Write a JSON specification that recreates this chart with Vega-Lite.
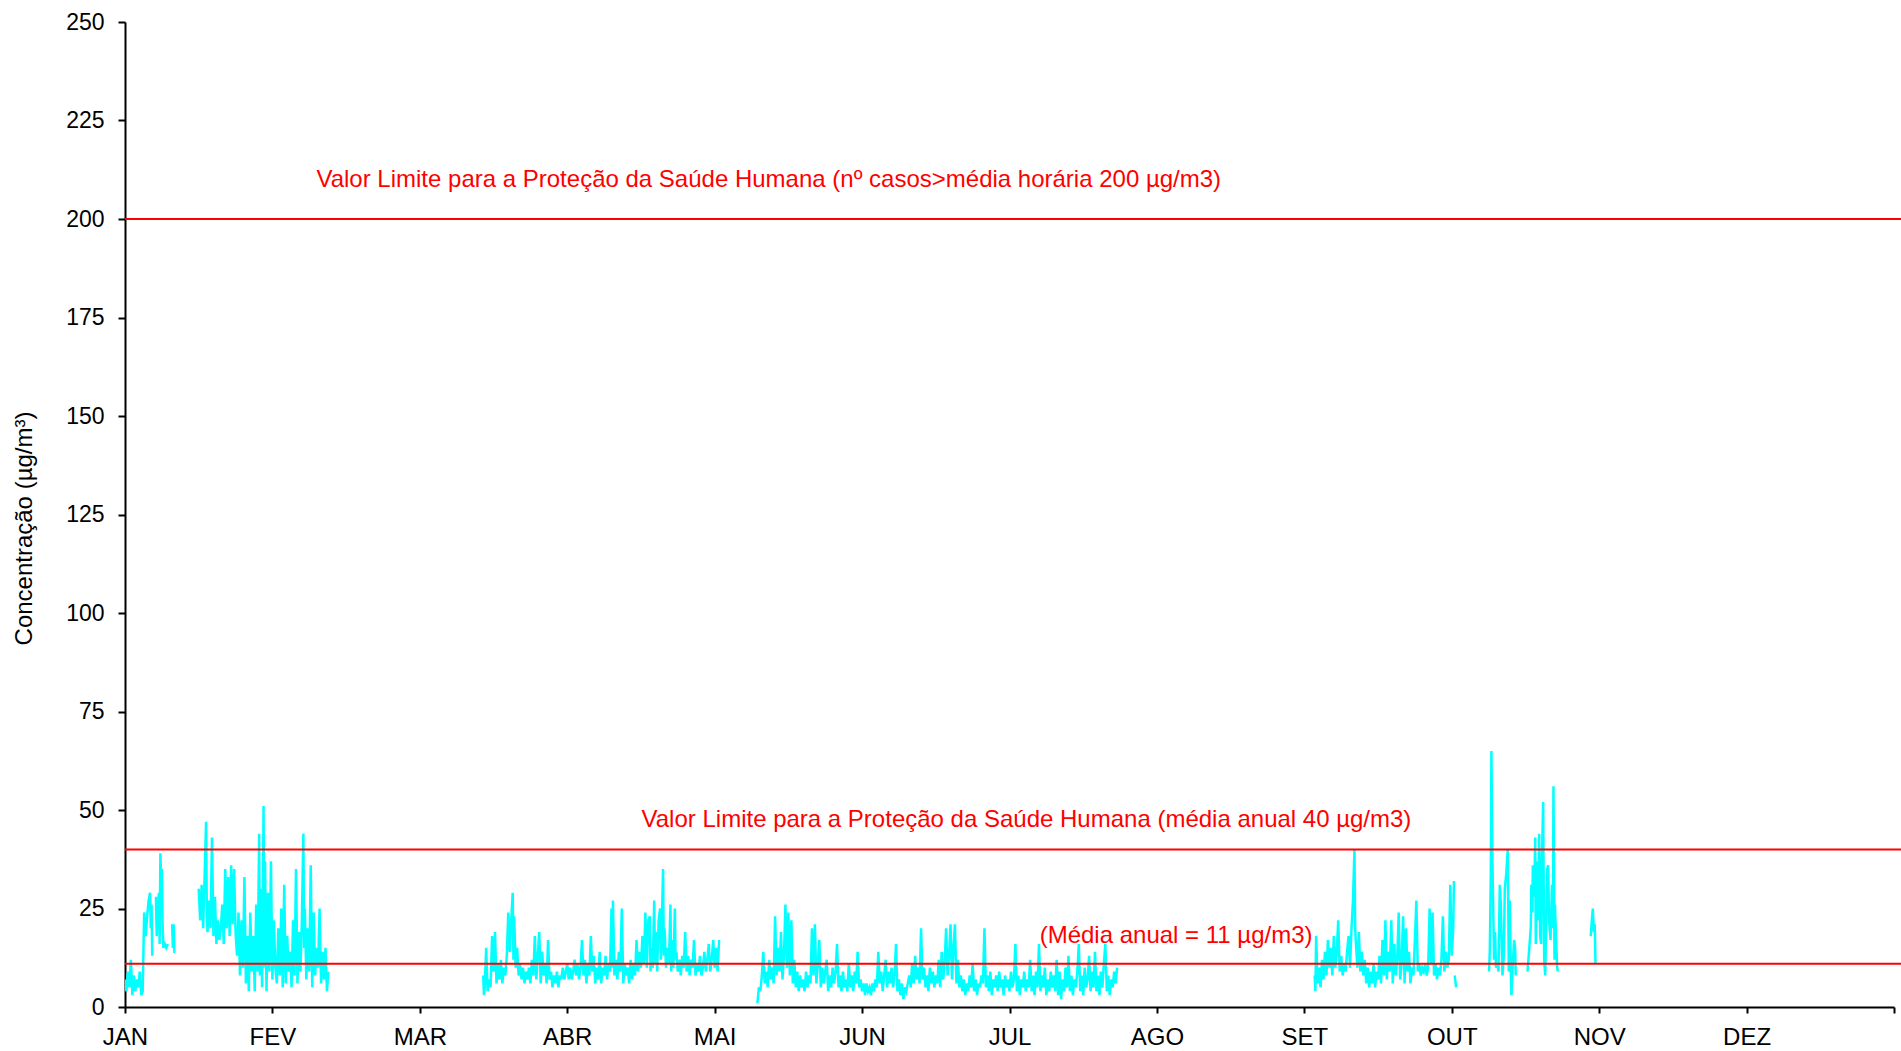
{
"$schema":"https://vega.github.io/schema/vega-lite/v6.json",
"width":1769,"height":985,
"autosize":{"type":"none"},
"padding":{"left":125,"top":22,"right":7,"bottom":44},
"background":"white",
"config":{"view":{"stroke":null},"font":"Liberation Sans"},
"datasets":{
"conc":[
{"m":0.00,"v":7,"s":1},{"m":0.01,"v":4,"s":1},{"m":0.02,"v":9,"s":1},{"m":0.03,"v":5,"s":1},{"m":0.04,"v":12,"s":1},{"m":0.05,"v":3,"s":1},{"m":0.06,"v":8,"s":1},{"m":0.07,"v":4,"s":1},{"m":0.08,"v":7,"s":1},{"m":0.09,"v":5,"s":1},{"m":0.10,"v":9,"s":1},{"m":0.11,"v":3,"s":1},{"m":0.12,"v":4,"s":1},{"m":0.125,"v":14,"s":1},{"m":0.13,"v":24,"s":1},{"m":0.14,"v":18,"s":1},{"m":0.15,"v":23,"s":1},{"m":0.16,"v":27,"s":1},{"m":0.17,"v":29,"s":1},{"m":0.175,"v":20,"s":1},{"m":0.18,"v":26,"s":1},{"m":0.185,"v":13,"s":1},
{"m":0.21,"v":28,"s":2},{"m":0.215,"v":18,"s":2},{"m":0.22,"v":23,"s":2},{"m":0.23,"v":29,"s":2},{"m":0.235,"v":16,"s":2},{"m":0.24,"v":39,"s":2},{"m":0.245,"v":33,"s":2},{"m":0.25,"v":35,"s":2},{"m":0.255,"v":21,"s":2},{"m":0.26,"v":15,"s":2},{"m":0.27,"v":16,"s":2},{"m":0.28,"v":15,"s":2},{"m":0.29,"v":16,"s":2},
{"m":0.32,"v":21,"s":3},{"m":0.325,"v":15,"s":3},{"m":0.33,"v":21,"s":3},{"m":0.335,"v":14,"s":3},{"m":0.34,"v":14,"s":3},
{"m":0.50,"v":30,"s":4},{"m":0.51,"v":22,"s":4},{"m":0.52,"v":31,"s":4},{"m":0.53,"v":20,"s":4},{"m":0.54,"v":33,"s":4},{"m":0.55,"v":47,"s":4},{"m":0.555,"v":24,"s":4},{"m":0.56,"v":19,"s":4},{"m":0.57,"v":27,"s":4},{"m":0.58,"v":20,"s":4},{"m":0.59,"v":43,"s":4},{"m":0.60,"v":18,"s":4},{"m":0.61,"v":28,"s":4},{"m":0.62,"v":16,"s":4},{"m":0.63,"v":22,"s":4},{"m":0.64,"v":17,"s":4},{"m":0.65,"v":20,"s":4},{"m":0.66,"v":26,"s":4},{"m":0.67,"v":16,"s":4},{"m":0.68,"v":35,"s":4},{"m":0.69,"v":20,"s":4},{"m":0.70,"v":33,"s":4},{"m":0.71,"v":18,"s":4},{"m":0.72,"v":36,"s":4},{"m":0.73,"v":21,"s":4},{"m":0.74,"v":35,"s":4},{"m":0.75,"v":19,"s":4},{"m":0.76,"v":13,"s":4},{"m":0.77,"v":24,"s":4},{"m":0.78,"v":8,"s":4},{"m":0.79,"v":22,"s":4},{"m":0.80,"v":10,"s":4},{"m":0.81,"v":33,"s":4},{"m":0.82,"v":6,"s":4},{"m":0.83,"v":18,"s":4},{"m":0.84,"v":4,"s":4},{"m":0.85,"v":24,"s":4},{"m":0.86,"v":9,"s":4},{"m":0.87,"v":18,"s":4},{"m":0.88,"v":4,"s":4},{"m":0.89,"v":26,"s":4},{"m":0.90,"v":9,"s":4},{"m":0.91,"v":44,"s":4},{"m":0.915,"v":8,"s":4},{"m":0.92,"v":30,"s":4},{"m":0.93,"v":5,"s":4},{"m":0.94,"v":51,"s":4},{"m":0.945,"v":10,"s":4},{"m":0.95,"v":37,"s":4},{"m":0.96,"v":4,"s":4},{"m":0.97,"v":29,"s":4},{"m":0.98,"v":9,"s":4},{"m":0.99,"v":37,"s":4},{"m":1.00,"v":7,"s":4},{"m":1.01,"v":22,"s":4},{"m":1.02,"v":10,"s":4},{"m":1.03,"v":6,"s":4},{"m":1.04,"v":20,"s":4},{"m":1.05,"v":8,"s":4},{"m":1.06,"v":25,"s":4},{"m":1.07,"v":5,"s":4},{"m":1.08,"v":31,"s":4},{"m":1.09,"v":6,"s":4},{"m":1.10,"v":18,"s":4},{"m":1.11,"v":9,"s":4},{"m":1.12,"v":14,"s":4},{"m":1.13,"v":5,"s":4},{"m":1.14,"v":22,"s":4},{"m":1.15,"v":8,"s":4},{"m":1.16,"v":35,"s":4},{"m":1.17,"v":6,"s":4},{"m":1.18,"v":19,"s":4},{"m":1.19,"v":9,"s":4},{"m":1.20,"v":22,"s":4},{"m":1.21,"v":44,"s":4},{"m":1.215,"v":15,"s":4},{"m":1.22,"v":25,"s":4},{"m":1.23,"v":7,"s":4},{"m":1.24,"v":20,"s":4},{"m":1.25,"v":9,"s":4},{"m":1.26,"v":36,"s":4},{"m":1.27,"v":5,"s":4},{"m":1.28,"v":24,"s":4},{"m":1.29,"v":8,"s":4},{"m":1.30,"v":15,"s":4},{"m":1.31,"v":10,"s":4},{"m":1.32,"v":25,"s":4},{"m":1.33,"v":6,"s":4},{"m":1.34,"v":14,"s":4},{"m":1.35,"v":7,"s":4},{"m":1.36,"v":15,"s":4},{"m":1.37,"v":4,"s":4},{"m":1.38,"v":9,"s":4},
{"m":2.43,"v":8,"s":5},{"m":2.435,"v":3,"s":5},{"m":2.44,"v":5,"s":5},{"m":2.45,"v":15,"s":5},{"m":2.46,"v":4,"s":5},{"m":2.47,"v":7,"s":5},{"m":2.48,"v":5,"s":5},{"m":2.49,"v":18,"s":5},{"m":2.50,"v":9,"s":5},{"m":2.51,"v":19,"s":5},{"m":2.52,"v":6,"s":5},{"m":2.53,"v":11,"s":5},{"m":2.54,"v":7,"s":5},{"m":2.55,"v":12,"s":5},{"m":2.56,"v":6,"s":5},{"m":2.57,"v":10,"s":5},{"m":2.58,"v":8,"s":5},{"m":2.59,"v":13,"s":5},{"m":2.60,"v":24,"s":5},{"m":2.61,"v":14,"s":5},{"m":2.62,"v":22,"s":5},{"m":2.63,"v":29,"s":5},{"m":2.635,"v":12,"s":5},{"m":2.64,"v":23,"s":5},{"m":2.65,"v":10,"s":5},{"m":2.66,"v":15,"s":5},{"m":2.67,"v":8,"s":5},{"m":2.68,"v":11,"s":5},{"m":2.69,"v":7,"s":5},{"m":2.70,"v":10,"s":5},{"m":2.71,"v":6,"s":5},{"m":2.72,"v":9,"s":5},{"m":2.73,"v":7,"s":5},{"m":2.74,"v":10,"s":5},{"m":2.75,"v":6,"s":5},{"m":2.76,"v":12,"s":5},{"m":2.77,"v":8,"s":5},{"m":2.78,"v":18,"s":5},{"m":2.79,"v":7,"s":5},{"m":2.80,"v":13,"s":5},{"m":2.81,"v":19,"s":5},{"m":2.82,"v":6,"s":5},{"m":2.83,"v":14,"s":5},{"m":2.84,"v":8,"s":5},{"m":2.85,"v":11,"s":5},{"m":2.86,"v":6,"s":5},{"m":2.87,"v":17,"s":5},{"m":2.88,"v":7,"s":5},{"m":2.89,"v":9,"s":5},{"m":2.90,"v":5,"s":5},{"m":2.91,"v":8,"s":5},{"m":2.92,"v":6,"s":5},{"m":2.93,"v":9,"s":5},{"m":2.94,"v":5,"s":5},{"m":2.95,"v":8,"s":5},{"m":2.96,"v":7,"s":5},{"m":2.97,"v":10,"s":5},{"m":2.98,"v":7,"s":5},{"m":2.99,"v":9,"s":5},{"m":3.00,"v":11,"s":5},{"m":3.01,"v":7,"s":5},{"m":3.02,"v":10,"s":5},{"m":3.03,"v":7,"s":5},{"m":3.04,"v":9,"s":5},{"m":3.05,"v":12,"s":5},{"m":3.06,"v":8,"s":5},{"m":3.07,"v":11,"s":5},{"m":3.08,"v":7,"s":5},{"m":3.09,"v":10,"s":5},{"m":3.10,"v":17,"s":5},{"m":3.11,"v":8,"s":5},{"m":3.12,"v":12,"s":5},{"m":3.13,"v":6,"s":5},{"m":3.14,"v":11,"s":5},{"m":3.15,"v":8,"s":5},{"m":3.16,"v":18,"s":5},{"m":3.17,"v":9,"s":5},{"m":3.18,"v":13,"s":5},{"m":3.19,"v":6,"s":5},{"m":3.20,"v":10,"s":5},{"m":3.21,"v":7,"s":5},{"m":3.22,"v":14,"s":5},{"m":3.23,"v":6,"s":5},{"m":3.24,"v":10,"s":5},{"m":3.25,"v":8,"s":5},{"m":3.26,"v":13,"s":5},{"m":3.27,"v":7,"s":5},{"m":3.28,"v":11,"s":5},{"m":3.29,"v":9,"s":5},{"m":3.30,"v":25,"s":5},{"m":3.305,"v":10,"s":5},{"m":3.31,"v":27,"s":5},{"m":3.32,"v":8,"s":5},{"m":3.33,"v":12,"s":5},{"m":3.34,"v":7,"s":5},{"m":3.35,"v":14,"s":5},{"m":3.36,"v":9,"s":5},{"m":3.37,"v":25,"s":5},{"m":3.38,"v":6,"s":5},{"m":3.39,"v":11,"s":5},{"m":3.40,"v":8,"s":5},{"m":3.41,"v":10,"s":5},{"m":3.42,"v":6,"s":5},{"m":3.43,"v":12,"s":5},{"m":3.44,"v":7,"s":5},{"m":3.45,"v":11,"s":5},{"m":3.46,"v":8,"s":5},{"m":3.47,"v":17,"s":5},{"m":3.48,"v":9,"s":5},{"m":3.49,"v":14,"s":5},{"m":3.50,"v":10,"s":5},{"m":3.51,"v":18,"s":5},{"m":3.52,"v":11,"s":5},{"m":3.53,"v":24,"s":5},{"m":3.54,"v":10,"s":5},{"m":3.55,"v":22,"s":5},{"m":3.56,"v":23,"s":5},{"m":3.565,"v":9,"s":5},{"m":3.57,"v":15,"s":5},{"m":3.58,"v":10,"s":5},{"m":3.59,"v":27,"s":5},{"m":3.595,"v":11,"s":5},{"m":3.60,"v":19,"s":5},{"m":3.61,"v":9,"s":5},{"m":3.62,"v":22,"s":5},{"m":3.63,"v":25,"s":5},{"m":3.635,"v":12,"s":5},{"m":3.64,"v":18,"s":5},{"m":3.65,"v":35,"s":5},{"m":3.655,"v":13,"s":5},{"m":3.66,"v":20,"s":5},{"m":3.67,"v":10,"s":5},{"m":3.68,"v":15,"s":5},{"m":3.69,"v":11,"s":5},{"m":3.70,"v":26,"s":5},{"m":3.705,"v":9,"s":5},{"m":3.71,"v":17,"s":5},{"m":3.72,"v":10,"s":5},{"m":3.73,"v":25,"s":5},{"m":3.735,"v":12,"s":5},{"m":3.74,"v":14,"s":5},{"m":3.75,"v":9,"s":5},{"m":3.76,"v":12,"s":5},{"m":3.77,"v":8,"s":5},{"m":3.78,"v":13,"s":5},{"m":3.79,"v":10,"s":5},{"m":3.80,"v":19,"s":5},{"m":3.81,"v":9,"s":5},{"m":3.82,"v":13,"s":5},{"m":3.83,"v":8,"s":5},{"m":3.84,"v":12,"s":5},{"m":3.85,"v":10,"s":5},{"m":3.86,"v":17,"s":5},{"m":3.87,"v":8,"s":5},{"m":3.88,"v":11,"s":5},{"m":3.89,"v":9,"s":5},{"m":3.90,"v":13,"s":5},{"m":3.91,"v":8,"s":5},{"m":3.92,"v":10,"s":5},{"m":3.93,"v":14,"s":5},{"m":3.94,"v":9,"s":5},{"m":3.95,"v":12,"s":5},{"m":3.96,"v":16,"s":5},{"m":3.97,"v":9,"s":5},{"m":3.98,"v":12,"s":5},{"m":3.99,"v":17,"s":5},{"m":4.00,"v":10,"s":5},{"m":4.01,"v":15,"s":5},{"m":4.02,"v":9,"s":5},{"m":4.03,"v":17,"s":5},
{"m":4.29,"v":1,"s":6},{"m":4.30,"v":5,"s":6},{"m":4.31,"v":4,"s":6},{"m":4.32,"v":8,"s":6},{"m":4.33,"v":14,"s":6},{"m":4.34,"v":6,"s":6},{"m":4.35,"v":9,"s":6},{"m":4.36,"v":5,"s":6},{"m":4.37,"v":12,"s":6},{"m":4.38,"v":7,"s":6},{"m":4.39,"v":10,"s":6},{"m":4.40,"v":6,"s":6},{"m":4.41,"v":23,"s":6},{"m":4.42,"v":8,"s":6},{"m":4.43,"v":15,"s":6},{"m":4.44,"v":9,"s":6},{"m":4.45,"v":19,"s":6},{"m":4.46,"v":7,"s":6},{"m":4.47,"v":13,"s":6},{"m":4.48,"v":26,"s":6},{"m":4.49,"v":10,"s":6},{"m":4.50,"v":24,"s":6},{"m":4.51,"v":8,"s":6},{"m":4.52,"v":22,"s":6},{"m":4.53,"v":6,"s":6},{"m":4.54,"v":12,"s":6},{"m":4.55,"v":5,"s":6},{"m":4.56,"v":9,"s":6},{"m":4.57,"v":4,"s":6},{"m":4.58,"v":8,"s":6},{"m":4.59,"v":5,"s":6},{"m":4.60,"v":7,"s":6},{"m":4.61,"v":4,"s":6},{"m":4.62,"v":9,"s":6},{"m":4.63,"v":5,"s":6},{"m":4.64,"v":8,"s":6},{"m":4.65,"v":6,"s":6},{"m":4.66,"v":20,"s":6},{"m":4.67,"v":8,"s":6},{"m":4.68,"v":21,"s":6},{"m":4.69,"v":6,"s":6},{"m":4.70,"v":11,"s":6},{"m":4.71,"v":17,"s":6},{"m":4.72,"v":5,"s":6},{"m":4.73,"v":10,"s":6},{"m":4.74,"v":6,"s":6},{"m":4.75,"v":9,"s":6},{"m":4.76,"v":12,"s":6},{"m":4.77,"v":4,"s":6},{"m":4.78,"v":8,"s":6},{"m":4.79,"v":5,"s":6},{"m":4.80,"v":10,"s":6},{"m":4.81,"v":6,"s":6},{"m":4.82,"v":9,"s":6},{"m":4.83,"v":16,"s":6},{"m":4.84,"v":5,"s":6},{"m":4.85,"v":8,"s":6},{"m":4.86,"v":4,"s":6},{"m":4.87,"v":9,"s":6},{"m":4.88,"v":5,"s":6},{"m":4.89,"v":7,"s":6},{"m":4.90,"v":4,"s":6},{"m":4.91,"v":11,"s":6},{"m":4.92,"v":5,"s":6},{"m":4.93,"v":8,"s":6},{"m":4.94,"v":4,"s":6},{"m":4.95,"v":9,"s":6},{"m":4.96,"v":6,"s":6},{"m":4.97,"v":14,"s":6},{"m":4.98,"v":5,"s":6},{"m":4.99,"v":7,"s":6},{"m":5.00,"v":4,"s":6},{"m":5.01,"v":6,"s":6},{"m":5.02,"v":3,"s":6},{"m":5.03,"v":6,"s":6},{"m":5.04,"v":4,"s":6},{"m":5.05,"v":5,"s":6},{"m":5.06,"v":3,"s":6},{"m":5.07,"v":6,"s":6},{"m":5.08,"v":4,"s":6},{"m":5.09,"v":7,"s":6},{"m":5.10,"v":5,"s":6},{"m":5.11,"v":14,"s":6},{"m":5.12,"v":6,"s":6},{"m":5.13,"v":9,"s":6},{"m":5.14,"v":4,"s":6},{"m":5.15,"v":8,"s":6},{"m":5.16,"v":12,"s":6},{"m":5.17,"v":5,"s":6},{"m":5.18,"v":9,"s":6},{"m":5.19,"v":6,"s":6},{"m":5.20,"v":10,"s":6},{"m":5.21,"v":5,"s":6},{"m":5.22,"v":8,"s":6},{"m":5.23,"v":16,"s":6},{"m":5.24,"v":4,"s":6},{"m":5.25,"v":7,"s":6},{"m":5.26,"v":3,"s":6},{"m":5.27,"v":6,"s":6},{"m":5.28,"v":2,"s":6},{"m":5.29,"v":5,"s":6},{"m":5.30,"v":4,"s":6},{"m":5.31,"v":6,"s":6},{"m":5.32,"v":8,"s":6},{"m":5.33,"v":5,"s":6},{"m":5.34,"v":11,"s":6},{"m":5.35,"v":6,"s":6},{"m":5.36,"v":13,"s":6},{"m":5.37,"v":7,"s":6},{"m":5.38,"v":10,"s":6},{"m":5.39,"v":6,"s":6},{"m":5.40,"v":20,"s":6},{"m":5.41,"v":7,"s":6},{"m":5.42,"v":10,"s":6},{"m":5.43,"v":5,"s":6},{"m":5.44,"v":8,"s":6},{"m":5.45,"v":4,"s":6},{"m":5.46,"v":10,"s":6},{"m":5.47,"v":6,"s":6},{"m":5.48,"v":9,"s":6},{"m":5.49,"v":5,"s":6},{"m":5.50,"v":8,"s":6},{"m":5.51,"v":6,"s":6},{"m":5.52,"v":12,"s":6},{"m":5.53,"v":5,"s":6},{"m":5.54,"v":14,"s":6},{"m":5.55,"v":7,"s":6},{"m":5.56,"v":11,"s":6},{"m":5.57,"v":20,"s":6},{"m":5.58,"v":8,"s":6},{"m":5.59,"v":13,"s":6},{"m":5.60,"v":21,"s":6},{"m":5.61,"v":7,"s":6},{"m":5.62,"v":15,"s":6},{"m":5.63,"v":21,"s":6},{"m":5.64,"v":6,"s":6},{"m":5.65,"v":12,"s":6},{"m":5.66,"v":5,"s":6},{"m":5.67,"v":8,"s":6},{"m":5.68,"v":4,"s":6},{"m":5.69,"v":7,"s":6},{"m":5.70,"v":3,"s":6},{"m":5.71,"v":6,"s":6},{"m":5.72,"v":4,"s":6},{"m":5.73,"v":8,"s":6},{"m":5.74,"v":5,"s":6},{"m":5.75,"v":11,"s":6},{"m":5.76,"v":4,"s":6},{"m":5.77,"v":7,"s":6},{"m":5.78,"v":3,"s":6},{"m":5.79,"v":6,"s":6},{"m":5.80,"v":5,"s":6},{"m":5.81,"v":8,"s":6},{"m":5.82,"v":6,"s":6},{"m":5.83,"v":20,"s":6},{"m":5.84,"v":5,"s":6},{"m":5.85,"v":8,"s":6},{"m":5.86,"v":4,"s":6},{"m":5.87,"v":9,"s":6},{"m":5.88,"v":3,"s":6},{"m":5.89,"v":7,"s":6},{"m":5.90,"v":5,"s":6},{"m":5.91,"v":8,"s":6},{"m":5.92,"v":4,"s":6},{"m":5.93,"v":9,"s":6},{"m":5.94,"v":5,"s":6},{"m":5.95,"v":7,"s":6},{"m":5.96,"v":3,"s":6},{"m":5.97,"v":8,"s":6},{"m":5.98,"v":5,"s":6},{"m":5.99,"v":7,"s":6},{"m":6.00,"v":4,"s":6},{"m":6.01,"v":9,"s":6},{"m":6.02,"v":5,"s":6},{"m":6.03,"v":7,"s":6},{"m":6.04,"v":16,"s":6},{"m":6.05,"v":4,"s":6},{"m":6.06,"v":8,"s":6},{"m":6.07,"v":3,"s":6},{"m":6.08,"v":7,"s":6},{"m":6.09,"v":5,"s":6},{"m":6.10,"v":9,"s":6},{"m":6.11,"v":4,"s":6},{"m":6.12,"v":7,"s":6},{"m":6.13,"v":5,"s":6},{"m":6.14,"v":12,"s":6},{"m":6.15,"v":4,"s":6},{"m":6.16,"v":8,"s":6},{"m":6.17,"v":3,"s":6},{"m":6.18,"v":9,"s":6},{"m":6.19,"v":5,"s":6},{"m":6.20,"v":16,"s":6},{"m":6.21,"v":4,"s":6},{"m":6.22,"v":8,"s":6},{"m":6.23,"v":5,"s":6},{"m":6.24,"v":10,"s":6},{"m":6.25,"v":3,"s":6},{"m":6.26,"v":7,"s":6},{"m":6.27,"v":4,"s":6},{"m":6.28,"v":9,"s":6},{"m":6.29,"v":5,"s":6},{"m":6.30,"v":8,"s":6},{"m":6.31,"v":4,"s":6},{"m":6.32,"v":12,"s":6},{"m":6.33,"v":3,"s":6},{"m":6.34,"v":9,"s":6},{"m":6.35,"v":2,"s":6},{"m":6.36,"v":7,"s":6},{"m":6.37,"v":4,"s":6},{"m":6.38,"v":10,"s":6},{"m":6.39,"v":5,"s":6},{"m":6.40,"v":13,"s":6},{"m":6.41,"v":4,"s":6},{"m":6.42,"v":8,"s":6},{"m":6.43,"v":3,"s":6},{"m":6.44,"v":7,"s":6},{"m":6.45,"v":5,"s":6},{"m":6.46,"v":9,"s":6},{"m":6.47,"v":16,"s":6},{"m":6.48,"v":4,"s":6},{"m":6.49,"v":8,"s":6},{"m":6.50,"v":3,"s":6},{"m":6.51,"v":10,"s":6},{"m":6.52,"v":5,"s":6},{"m":6.53,"v":7,"s":6},{"m":6.54,"v":13,"s":6},{"m":6.55,"v":4,"s":6},{"m":6.56,"v":9,"s":6},{"m":6.57,"v":5,"s":6},{"m":6.58,"v":14,"s":6},{"m":6.59,"v":4,"s":6},{"m":6.60,"v":8,"s":6},{"m":6.61,"v":3,"s":6},{"m":6.62,"v":9,"s":6},{"m":6.63,"v":5,"s":6},{"m":6.64,"v":11,"s":6},{"m":6.65,"v":16,"s":6},{"m":6.66,"v":4,"s":6},{"m":6.67,"v":8,"s":6},{"m":6.68,"v":3,"s":6},{"m":6.69,"v":7,"s":6},{"m":6.70,"v":5,"s":6},{"m":6.71,"v":9,"s":6},{"m":6.72,"v":6,"s":6},{"m":6.73,"v":10,"s":6},
{"m":8.07,"v":8,"s":7},{"m":8.075,"v":4,"s":7},{"m":8.08,"v":18,"s":7},{"m":8.09,"v":6,"s":7},{"m":8.10,"v":10,"s":7},{"m":8.11,"v":5,"s":7},{"m":8.12,"v":12,"s":7},{"m":8.13,"v":7,"s":7},{"m":8.14,"v":14,"s":7},{"m":8.15,"v":8,"s":7},{"m":8.16,"v":17,"s":7},{"m":8.17,"v":10,"s":7},{"m":8.18,"v":15,"s":7},{"m":8.19,"v":8,"s":7},{"m":8.20,"v":18,"s":7},{"m":8.21,"v":10,"s":7},{"m":8.22,"v":14,"s":7},{"m":8.23,"v":22,"s":7},{"m":8.24,"v":9,"s":7},{"m":8.25,"v":13,"s":7},{"m":8.26,"v":8,"s":7},{"m":8.27,"v":11,"s":7},{"m":8.28,"v":9,"s":7},{"m":8.29,"v":14,"s":7},{"m":8.30,"v":18,"s":7},{"m":8.31,"v":10,"s":7},{"m":8.32,"v":20,"s":7},{"m":8.33,"v":27,"s":7},{"m":8.34,"v":40,"s":7},{"m":8.345,"v":20,"s":7},{"m":8.35,"v":16,"s":7},{"m":8.36,"v":10,"s":7},{"m":8.37,"v":19,"s":7},{"m":8.38,"v":9,"s":7},{"m":8.39,"v":14,"s":7},{"m":8.40,"v":8,"s":7},{"m":8.41,"v":12,"s":7},{"m":8.42,"v":6,"s":7},{"m":8.43,"v":10,"s":7},{"m":8.44,"v":5,"s":7},{"m":8.45,"v":9,"s":7},{"m":8.46,"v":6,"s":7},{"m":8.47,"v":11,"s":7},{"m":8.48,"v":5,"s":7},{"m":8.49,"v":9,"s":7},{"m":8.50,"v":7,"s":7},{"m":8.51,"v":13,"s":7},{"m":8.52,"v":6,"s":7},{"m":8.53,"v":17,"s":7},{"m":8.54,"v":8,"s":7},{"m":8.55,"v":22,"s":7},{"m":8.56,"v":7,"s":7},{"m":8.57,"v":14,"s":7},{"m":8.58,"v":9,"s":7},{"m":8.59,"v":22,"s":7},{"m":8.60,"v":6,"s":7},{"m":8.61,"v":16,"s":7},{"m":8.62,"v":8,"s":7},{"m":8.63,"v":12,"s":7},{"m":8.64,"v":24,"s":7},{"m":8.65,"v":7,"s":7},{"m":8.66,"v":11,"s":7},{"m":8.67,"v":23,"s":7},{"m":8.68,"v":6,"s":7},{"m":8.69,"v":20,"s":7},{"m":8.70,"v":9,"s":7},{"m":8.71,"v":14,"s":7},{"m":8.72,"v":6,"s":7},{"m":8.73,"v":10,"s":7},{"m":8.74,"v":8,"s":7},{"m":8.75,"v":17,"s":7},{"m":8.76,"v":27,"s":7},{"m":8.77,"v":9,"s":7},{"m":8.78,"v":11,"s":7},{"m":8.79,"v":8,"s":7},{"m":8.80,"v":10,"s":7},{"m":8.81,"v":9,"s":7},{"m":8.82,"v":11,"s":7},{"m":8.83,"v":8,"s":7},{"m":8.84,"v":10,"s":7},{"m":8.85,"v":25,"s":7},{"m":8.86,"v":11,"s":7},{"m":8.87,"v":24,"s":7},{"m":8.88,"v":8,"s":7},{"m":8.89,"v":11,"s":7},{"m":8.90,"v":7,"s":7},{"m":8.91,"v":10,"s":7},{"m":8.92,"v":8,"s":7},{"m":8.93,"v":12,"s":7},{"m":8.94,"v":23,"s":7},{"m":8.95,"v":9,"s":7},{"m":8.96,"v":14,"s":7},{"m":8.97,"v":10,"s":7},{"m":8.98,"v":12,"s":7},{"m":8.99,"v":31,"s":7},{"m":9.00,"v":13,"s":7},{"m":9.01,"v":20,"s":7},{"m":9.015,"v":32,"s":7},
{"m":9.02,"v":8,"s":8},{"m":9.03,"v":5,"s":8},
{"m":9.253,"v":9,"s":9},{"m":9.258,"v":14,"s":9},{"m":9.265,"v":34,"s":9},{"m":9.269,"v":65,"s":9},{"m":9.276,"v":37,"s":9},{"m":9.287,"v":12,"s":9},{"m":9.294,"v":19,"s":9},{"m":9.30,"v":10,"s":9},{"m":9.31,"v":11,"s":9},{"m":9.317,"v":9,"s":9},{"m":9.326,"v":31,"s":9},{"m":9.333,"v":26,"s":9},{"m":9.344,"v":8,"s":9},{"m":9.353,"v":13,"s":9},{"m":9.36,"v":30,"s":9},{"m":9.37,"v":34,"s":9},{"m":9.38,"v":40,"s":9},{"m":9.387,"v":9,"s":9},{"m":9.394,"v":27,"s":9},{"m":9.40,"v":10,"s":9},{"m":9.405,"v":3,"s":9},{"m":9.414,"v":11,"s":9},{"m":9.423,"v":17,"s":9},{"m":9.43,"v":15,"s":9},{"m":9.434,"v":8,"s":9},
{"m":9.514,"v":9,"s":10},{"m":9.52,"v":12,"s":10},{"m":9.53,"v":17,"s":10},{"m":9.536,"v":20,"s":10},{"m":9.54,"v":31,"s":10},{"m":9.547,"v":24,"s":10},{"m":9.55,"v":36,"s":10},{"m":9.56,"v":28,"s":10},{"m":9.566,"v":43,"s":10},{"m":9.57,"v":16,"s":10},{"m":9.58,"v":37,"s":10},{"m":9.586,"v":22,"s":10},{"m":9.593,"v":44,"s":10},{"m":9.60,"v":18,"s":10},{"m":9.606,"v":16,"s":10},{"m":9.61,"v":34,"s":10},{"m":9.62,"v":52,"s":10},{"m":9.627,"v":12,"s":10},{"m":9.634,"v":8,"s":10},{"m":9.64,"v":20,"s":10},{"m":9.647,"v":35,"s":10},{"m":9.654,"v":36,"s":10},{"m":9.66,"v":22,"s":10},{"m":9.67,"v":17,"s":10},{"m":9.68,"v":31,"s":10},{"m":9.686,"v":20,"s":10},{"m":9.69,"v":56,"s":10},{"m":9.697,"v":12,"s":10},{"m":9.70,"v":26,"s":10},{"m":9.71,"v":15,"s":10},{"m":9.715,"v":10,"s":10},{"m":9.72,"v":9,"s":10},
{"m":9.943,"v":18,"s":11},{"m":9.95,"v":22,"s":11},{"m":9.957,"v":25,"s":11},{"m":9.964,"v":19,"s":11},{"m":9.97,"v":21,"s":11},{"m":9.975,"v":11,"s":11}
],
"limits":[{"y":200},{"y":40},{"y":11}],
"labels":[
{"m":4.367,"v":210,"t":"Valor Limite para a Proteção da Saúde Humana (nº casos>média horária 200 µg/m3)"},
{"m":6.115,"v":47.4,"t":"Valor Limite para a Proteção da Saúde Humana (média anual 40 µg/m3)"},
{"m":7.13,"v":17.9,"t":"(Média anual = 11 µg/m3)"}
]
},
"layer":[
{
"data":{"name":"conc"},
"mark":{"type":"line","stroke":"#00FFFF","strokeWidth":2.5,"clip":true},
"encoding":{
"x":{"field":"m","type":"quantitative","scale":{"domain":[0,12],"nice":false,"zero":false},
"axis":{"values":[0,1,2,3,4,5,6,7,8,9,10,11,12],"labelExpr":"['JAN','FEV','MAR','ABR','MAI','JUN','JUL','AGO','SET','OUT','NOV','DEZ',''][datum.value]","title":null,"grid":false,"domainColor":"#000000","domainWidth":2,"tickColor":"#000000","tickWidth":2,"tickSize":6,"labelFont":"Liberation Sans","labelFontSize":24,"labelColor":"#000000","labelPadding":12,"labelFlush":false,"labelOverlap":false}},
"y":{"field":"v","type":"quantitative","scale":{"domain":[0,250],"nice":false},
"axis":{"values":[0,25,50,75,100,125,150,175,200,225,250],"title":"Concentração (µg/m³)","grid":false,"domainColor":"#000000","domainWidth":2,"tickColor":"#000000","tickWidth":2,"tickSize":7,"labelFont":"Liberation Sans","labelFontSize":23,"labelColor":"#000000","labelPadding":14,"labelFlush":false,"titleFont":"Liberation Sans","titleFontSize":24,"titleFontWeight":"normal","titleColor":"#000000","titleX":-101,"titleY":506,"titleAngle":270,"titleAlign":"center","titleBaseline":"middle"}},
"detail":{"field":"s","type":"nominal"}
}
},
{
"data":{"name":"limits"},
"mark":{"type":"rule","stroke":"#FF0000","strokeWidth":2,"clip":false},
"encoding":{"y":{"field":"y","type":"quantitative"},"x":{"datum":0},"x2":{"datum":12.05}}
},
{
"data":{"name":"labels"},
"mark":{"type":"text","color":"#FF0000","font":"Liberation Sans","fontSize":24,"align":"center","baseline":"middle"},
"encoding":{
"x":{"field":"m","type":"quantitative"},
"y":{"field":"v","type":"quantitative"},
"text":{"field":"t"}
}
}
]
}
